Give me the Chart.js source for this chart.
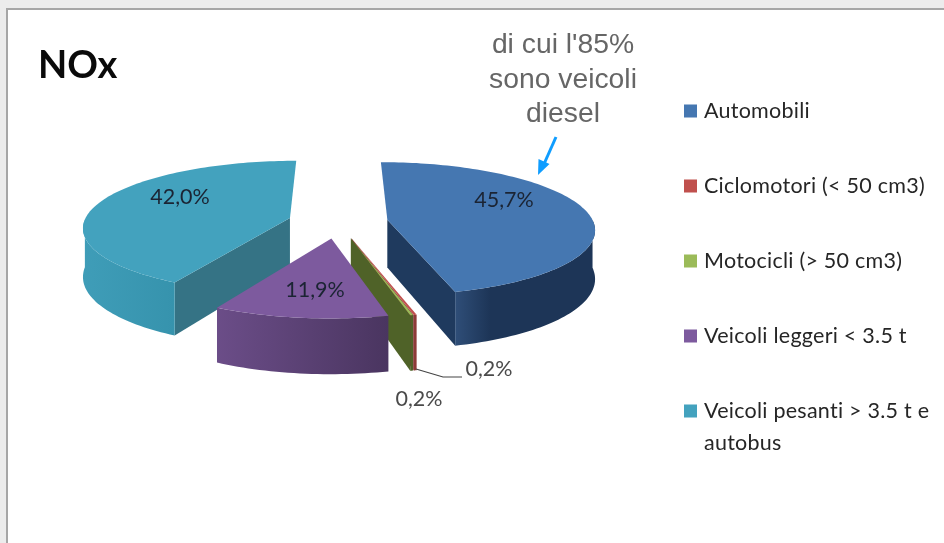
<!DOCTYPE html>
<html><head><meta charset="utf-8">
<script src="https://cdn.jsdelivr.net/npm/chart.js@4"></script>
<style>
html,body{margin:0;padding:0;background:#ececec;width:944px;height:543px;overflow:hidden}
#frame{position:absolute;left:6px;top:8px;width:960px;height:560px;background:#fff;border:2px solid #a6a6a6;box-sizing:border-box}
canvas{position:absolute;left:0;top:0}
</style></head><body>
<div id="frame"></div>
<canvas id="c" width="944" height="543"></canvas>
<script>
const categories=['Automobili','Ciclomotori (< 50 cm3)','Motocicli (> 50 cm3)','Veicoli leggeri < 3.5 t','Veicoli pesanti > 3.5 t e autobus'];
const shares=[45.7,0.2,0.2,11.9,42.0];
const chartTitle='NOx';
const noteLines=["di cui l'85%",'sono veicoli','diesel'];

const topColors=['#4577B1','#C0504D','#9BBB59','#7D5A9E','#43A2BE'];
const wallLeft=['#2F4E78','#8E3A38','#4F6228','#6B4D88','#3F9DB8'];
const wallRight=['#1D3557','#8E3A38','#4F6228','#4A3560','#3693AD'];
const faceColors=['#1F3A5E','#7E2F2D','#4F6228','#4A3560','#357385'];
const paintOrder=[4,0,1,2,3];
const labelAnchors=[[504,200],[489,369],[419,399],[315,290],[180,197]];
const view={cx:338,cy:222,rx:206,k:0.325,p:0.13,h:48};
const explode=50;

function project(u,v,z){
  const s=1+view.p*v;
  return [view.cx+u*view.rx*s, view.cy+view.k*v*view.rx*s+z*view.h*s];
}
const pie3d={
  id:'pie3d',
  beforeDatasetDraw(chart,args){
    const ctx=chart.ctx, arcs=args.meta.data;
    ctx.save();
    for(const i of paintOrder){
      const a=arcs[i];
      const s=a.startAngle, e=a.endAngle, m=(s+e)/2;
      const ox=Math.cos(m)*a.options.offset/view.rx, oy=Math.sin(m)*a.options.offset/view.rx;
      const pt=(ang,z)=>project(ox+Math.cos(ang),oy+Math.sin(ang),z);
      const n=Math.max(6,Math.ceil((e-s)*40));
      const angs=[];for(let j=0;j<=n;j++)angs.push(s+(e-s)*j/n);
      const quad=(ang,col)=>{
        const A=project(ox,oy,0),B=pt(ang,0),C=pt(ang,1),D=project(ox,oy,1);
        ctx.beginPath();ctx.moveTo(...A);ctx.lineTo(...B);ctx.lineTo(...C);ctx.lineTo(...D);ctx.closePath();
        ctx.fillStyle=col;ctx.fill();
      };
      // radial walls that face the viewer
      if(Math.sin(s-Math.PI/2)>0)quad(s,faceColors[i]);
      if(Math.sin(e+Math.PI/2)>0)quad(e,faceColors[i]);
      // outer wall: only the front half of the rim
      const front=angs.filter(t=>Math.sin(t)>=0);
      if(front.length>1){
        const xs=front.map(t=>pt(t,0)[0]);
        const g=ctx.createLinearGradient(Math.min(...xs),0,Math.max(...xs),0);
        if(i===0){g.addColorStop(0,wallLeft[i]);g.addColorStop(.25,wallRight[i]);g.addColorStop(1,wallRight[i]);}
        else{g.addColorStop(0,wallLeft[i]);g.addColorStop(1,wallRight[i]);}
        ctx.beginPath();
        front.forEach((t,j)=>{const q=pt(t,0);j?ctx.lineTo(...q):ctx.moveTo(...q);});
        front.slice().reverse().forEach(t=>ctx.lineTo(...pt(t,1)));
        ctx.closePath();ctx.fillStyle=g;ctx.fill();
      }
      // top face
      ctx.beginPath();ctx.moveTo(...project(ox,oy,0));
      angs.forEach(t=>ctx.lineTo(...pt(t,0)));
      ctx.closePath();ctx.fillStyle=a.options.backgroundColor;ctx.fill();
    }
    ctx.restore();
    return false;
  },
  afterDraw(chart){
    const ctx=chart.ctx;
    ctx.save();
    // value labels
    ctx.font='21.5px Lato';ctx.textAlign='center';ctx.textBaseline='middle';
    shares.forEach((v,i)=>{
      ctx.fillStyle=(i===1||i===2)?'#4a4a4a':'#1b2433';
      ctx.fillText(v.toFixed(1).replace('.',',')+'%',labelAnchors[i][0],labelAnchors[i][1]);
    });
    // leader line
    ctx.strokeStyle='#444';ctx.lineWidth=1.2;ctx.beginPath();
    ctx.moveTo(416,369);ctx.lineTo(443,377);ctx.lineTo(462,377);ctx.stroke();
    // legend
    ctx.textAlign='left';ctx.font='21.5px Lato';ctx.letterSpacing='0.25px';
    categories.forEach((c,i)=>{
      const y=111+75*i;
      ctx.fillStyle=topColors[i];ctx.fillRect(684,y-6.5,13,13);
      ctx.fillStyle='#262626';
      const lines=[];let cur='';
      c.split(' ').forEach(w=>{const t=cur?cur+' '+w:w;if(ctx.measureText(t).width>232&&cur){lines.push(cur);cur=w;}else cur=t;});
      lines.push(cur);
      lines.forEach((l,j)=>ctx.fillText(l,704,y+j*32));
    });
    ctx.letterSpacing='0px';
    // note
    ctx.font='28.3px "Liberation Sans"';ctx.textAlign='center';ctx.fillStyle='#666';
    noteLines.forEach((l,i)=>ctx.fillText(l,563,45.5+i*34.5));
    // arrow
    ctx.strokeStyle='#0F9DFF';ctx.fillStyle='#0F9DFF';ctx.lineWidth=3;
    ctx.beginPath();ctx.moveTo(556,137);ctx.lineTo(544,164);ctx.stroke();
    ctx.beginPath();ctx.moveTo(538,175);ctx.lineTo(538.5,159);ctx.lineTo(549.5,164);ctx.closePath();ctx.fill();
    ctx.restore();
  }
};
new Chart(document.getElementById('c'),{
  type:'pie',
  data:{labels:categories,datasets:[{data:shares,backgroundColor:topColors,borderWidth:0,offset:explode,radius:206}]},
  options:{
    responsive:false,animation:false,
    layout:{padding:{left:38,right:30,top:10,bottom:0}},
    plugins:{
      legend:{display:false},tooltip:{enabled:false},
      title:{display:true,text:chartTitle,align:'start',color:'#0a0a0a',font:{family:'Lato',size:38,weight:'bold'},padding:{top:33,bottom:0}}
    }
  },
  plugins:[pie3d]
});
</script>
</body></html>
